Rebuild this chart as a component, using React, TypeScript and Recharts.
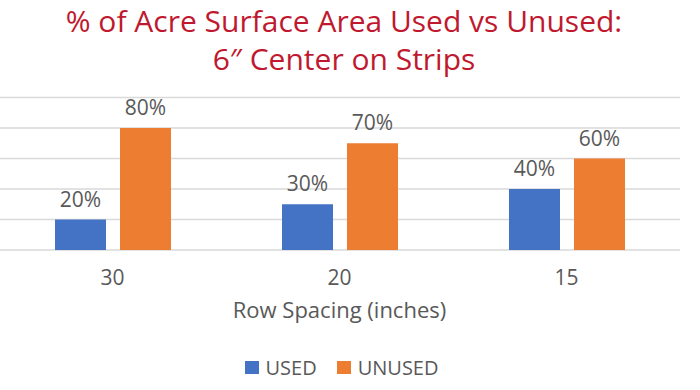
import { Bar, BarChart, CartesianGrid, LabelList, Legend, XAxis, YAxis } from "recharts";

const SPACINGS = ["30", "20", "15"];
const USED = [20, 30, 40];
const UNUSED = [80, 70, 60];
const Y_TICKS = [0, 20, 40, 60, 80, 100];

const BLUE = "#4472c4";
const ORANGE = "#ed7d31";
const TEXT = "#595959";
const FONT = "'Open Sans', sans-serif";

const data = SPACINGS.map((spacing, i) => ({
  spacing,
  USED: USED[i],
  UNUSED: UNUSED[i],
}));

function LegendRow() {
  const items = [
    { name: "USED", color: BLUE },
    { name: "UNUSED", color: ORANGE },
  ];
  return (
    <div style={{ display: "flex", justifyContent: "center", alignItems: "center", height: 30, gap: 20, paddingLeft: 4 }}>
      {items.map((it) => (
        <div key={it.name} style={{ display: "flex", alignItems: "center" }}>
          <span style={{ width: 14, height: 13, background: it.color, display: "inline-block", marginRight: 7 }} />
          <span style={{ fontFamily: FONT, fontSize: 20, color: TEXT }}>{it.name}</span>
        </div>
      ))}
    </div>
  );
}

export default function App() {
  return (
    <div style={{ position: "absolute", left: 0, top: 0, width: 700, height: 390, background: "#fff" }}>
      <div
        style={{
          position: "absolute",
          left: 0,
          top: 2,
          width: 688,
          textAlign: "center",
          fontFamily: FONT,
          fontSize: 30,
          lineHeight: "38px",
          color: "#c0192f",
          zIndex: 1,
        }}
      >
        % of Acre Surface Area Used vs Unused:
        <br />
        6″ Center on Strips
      </div>
      <BarChart
        width={700}
        height={390}
        data={data}
        margin={{ top: 97.5, right: 20, left: -1, bottom: 8 }}
        barSize={51}
        barGap={14}
      >
        <CartesianGrid vertical={false} stroke="#d9d9d9" strokeWidth={1.5} />
        <YAxis hide domain={[0, 100]} ticks={Y_TICKS} />
        <XAxis
          dataKey="spacing"
          height={102}
          axisLine={false}
          tickLine={false}
          tickSize={0}
          tickMargin={20}
          tick={{ fill: TEXT, fontSize: 21, fontFamily: FONT }}
          label={{
            value: "Row Spacing (inches)",
            position: "insideBottom",
            offset: 34,
            fill: TEXT,
            fontSize: 22,
            fontFamily: FONT,
          }}
        />
        <Legend verticalAlign="bottom" height={30} content={() => <LegendRow />} />
        <Bar dataKey="USED" fill={BLUE} isAnimationActive={false}>
          <LabelList
            dataKey="USED"
            position="top"
            offset={13}
            formatter={(v: number) => `${v}%`}
            fill={TEXT}
            fontSize={21}
            fontFamily={FONT}
          />
        </Bar>
        <Bar dataKey="UNUSED" fill={ORANGE} isAnimationActive={false}>
          <LabelList
            dataKey="UNUSED"
            position="top"
            offset={13}
            formatter={(v: number) => `${v}%`}
            fill={TEXT}
            fontSize={21}
            fontFamily={FONT}
          />
        </Bar>
      </BarChart>
    </div>
  );
}
